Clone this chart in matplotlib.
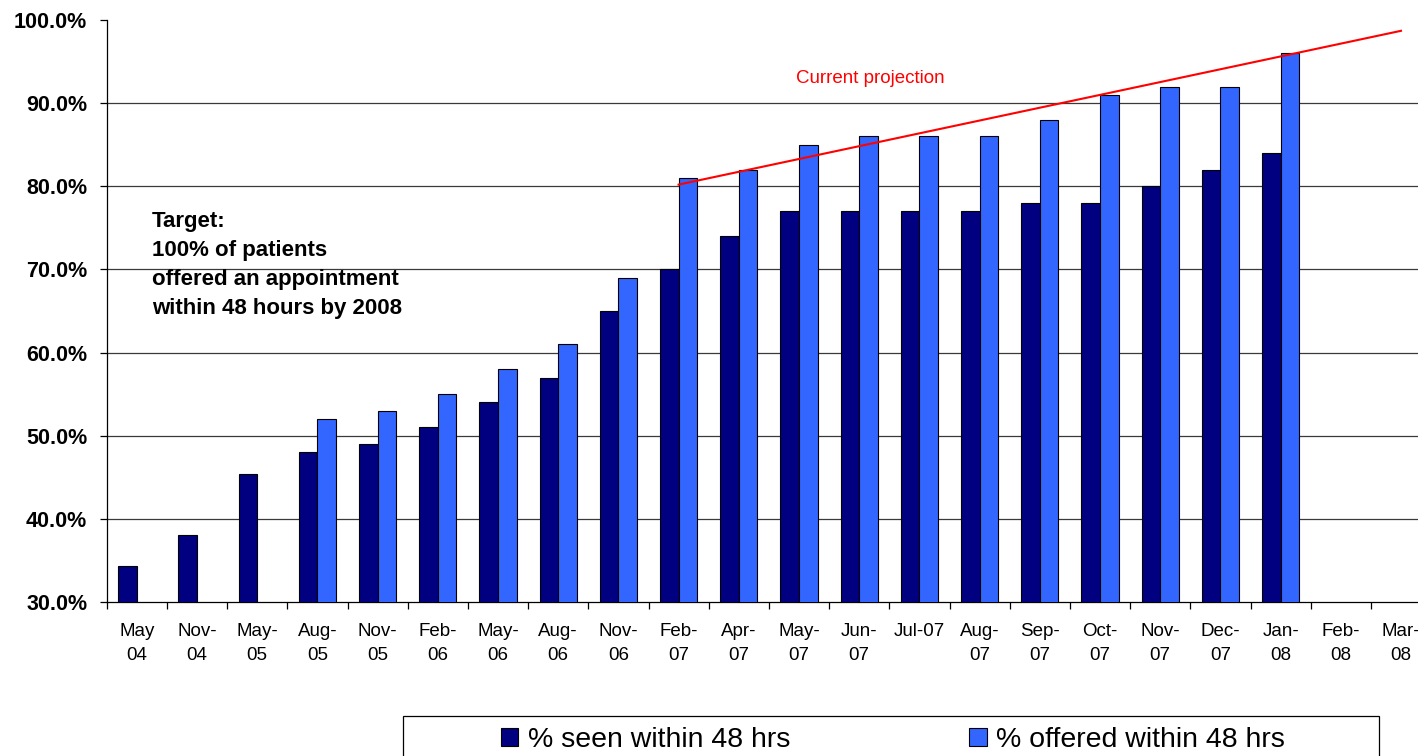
import numpy as np
import matplotlib
matplotlib.use("Agg")
import matplotlib.pyplot as plt
from matplotlib.patches import Patch, Rectangle

plt.rcParams['font.family'] = ['Liberation Sans', 'DejaVu Sans']

categories = ["May\n04", "Nov-\n04", "May-\n05", "Aug-\n05", "Nov-\n05", "Feb-\n06",
              "May-\n06", "Aug-\n06", "Nov-\n06", "Feb-\n07", "Apr-\n07", "May-\n07",
              "Jun-\n07", "Jul-07", "Aug-\n07", "Sep-\n07", "Oct-\n07", "Nov-\n07",
              "Dec-\n07", "Jan-\n08", "Feb-\n08", "Mar-\n08"]
seen = [34.3, 38.1, 45.4, 48, 49, 51, 54, 57, 65, 70, 74, 77, 77, 77, 77, 78, 78, 80, 82, 84,
        np.nan, np.nan]
offered = [np.nan, np.nan, np.nan, 52, 53, 55, 58, 61, 69, 81, 82, 85, 86, 86, 86, 88, 91, 92, 92,
           96, np.nan, np.nan]
projection_from_to = [9, 21]          # Feb-07 .. Mar-08 (category index)
projection_values = [80.2, 98.7]
yticks = [30, 40, 50, 60, 70, 80, 90, 100]

W, H = 1418, 756
fig = plt.figure(figsize=(W / 100, H / 100), dpi=100)
ax = fig.add_axes([106.7 / W, 1 - 602 / H, 1324.4 / W, 582 / H])

x = np.arange(len(categories))
bw = 0.31
ax.bar(x - bw, seen, width=bw, align='edge', color='#000080', edgecolor='black', linewidth=0.8,
       zorder=3, label='% seen within 48 hrs')
ax.bar(x, offered, width=bw, align='edge', color='#3366FF', edgecolor='black', linewidth=0.8,
       zorder=3, label='% offered within 48 hrs')

ax.plot(projection_from_to, projection_values, color='#FF0000', lw=1.5, zorder=4)
ax.text(12.18, 93.0, "Current projection", color='#FF0000', fontsize=13.5, ha='center',
        va='center')

ax.text(0.25, 77.0, "Target:\n100% of patients\noffered an appointment\nwithin 48 hours by 2008",
        fontsize=16, fontweight='bold', ha='left', va='top', linespacing=1.5)

ax.set_xlim(-0.5, len(categories) - 0.5)
ax.set_ylim(30, 100)
ax.set_yticks(yticks)
ax.set_yticklabels([f"{v:.1f}%" for v in yticks], fontsize=15.5, fontweight='bold')
for v in yticks[1:-1]:
    ax.axhline(v, color='#3a3a3a', lw=0.9, zorder=1)

ax.set_xticks(np.arange(-0.5, len(categories), 1))
ax.set_xticklabels([])
ax.set_xticks(x, minor=True)
ax.set_xticklabels(categories, minor=True, fontsize=13.5, linespacing=1.55)
ax.tick_params(axis='x', which='major', direction='out', length=5, width=0.9)
ax.tick_params(axis='x', which='minor', length=0, pad=15)
ax.tick_params(axis='y', direction='out', length=5, width=0.9, pad=9)

for s in ['top', 'right']:
    ax.spines[s].set_visible(False)
for s in ['left', 'bottom']:
    ax.spines[s].set_linewidth(0.9)

# legend box
fig.patches.append(Rectangle((403 / W, 1 - 780 / H), (1379 - 403) / W, 64 / H,
                             transform=fig.transFigure, facecolor='white', edgecolor='black',
                             lw=0.9, zorder=0))
handles = [Patch(facecolor='#000080', edgecolor='black', lw=0.8),
           Patch(facecolor='#3366FF', edgecolor='black', lw=0.8)]
fig.legend(handles, ['% seen within 48 hrs', '% offered within 48 hrs'], ncol=2, frameon=False,
           loc='center', bbox_to_anchor=(893 / W, 1 - 740 / H), fontsize=20.5,
           handlelength=0.6, handleheight=0.6, handletextpad=0.35, columnspacing=6.3,
           borderpad=0, borderaxespad=0)

fig.savefig("out.png", dpi=100)
